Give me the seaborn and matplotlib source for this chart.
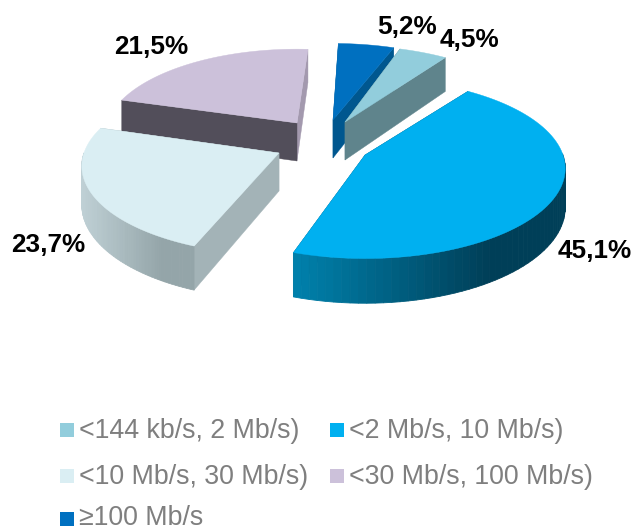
import numpy as np
import seaborn as sns
import matplotlib.pyplot as plt
from matplotlib.patches import Polygon, Rectangle

# Slices, clockwise from the start angle
categories = ['<144 kb/s, 2 Mb/s)', '<2 Mb/s, 10 Mb/s)', '<10 Mb/s, 30 Mb/s)',
              '<30 Mb/s, 100 Mb/s)', '≥100 Mb/s']
shares = [4.5, 45.1, 23.7, 21.5, 5.2]
labels = ['4,5%', '45,1%', '23,7%', '21,5%', '5,2%']
top_colors = ['#92CDDC', '#00B0F0', '#DAEEF3', '#CCC1DA', '#0070C0']
wall_left = ['#5F848C', '#0080AB', '#BFD0D5', '#A399AE', '#00578F']
wall_right = ['#5F848C', '#003F58', '#94A5A9', '#A399AE', '#00578F']
cut_start = ['#5F848C', '#00506E', '#A3B3B7', '#A399AE', '#00578F']
cut_end = ['#5F848C', '#00506E', '#A3B3B7', '#524E5A', '#00578F']
label_pos = [(469, 40), (595, 251), (48, 245), (151, 47), (407, 27)]

START_ANGLE = 71.5
A, B = 198, 88
DEPTH = 38
PERSP = 0.15
# apex of each pulled-out slice, plus small turn/reach fixes for the view distortion
apex = [(345, 122), (365, 155), (279, 153), (297, 123), (333, 120)]
turn = [0, -1, -5, -4, -2]
reach = [1.0, 1.0, 0.985, 0.96, 1.0]
DRAW_ORDER = [4, 0, 3, 2, 1]

sns.set_theme(style='white')
plt.rcParams['font.family'] = ['Liberation Sans', 'DejaVu Sans']


def project(center, X, Y, down=0.0):
    w = 1 + PERSP * Y
    return center[0] + A * X / w, center[1] - B * Y / w + down * DEPTH / w


def draw_slice(ax, center, start, end, size, top, left, right, c_start, c_end):
    th = np.radians(np.linspace(start, end, 80))
    X = size * np.cos(th)
    Y = size * np.sin(th)

    # radial cut faces
    for xe, ye, cut in [(X[0], Y[0], c_start), (X[-1], Y[-1], c_end)]:
        face = [project(center, 0, 0), project(center, xe, ye),
                project(center, xe, ye, 1), project(center, 0, 0, 1)]
        ax.add_patch(Polygon(face, closed=True, fc=cut, ec=cut, lw=0.3))

    # outer wall, shaded along x
    ramp = sns.blend_palette([left, right], 100)
    sx_all = project(center, X, Y)[0]
    front = np.where(np.sin(th) < 0.02)[0]
    if len(front) > 1:
        lo, hi = sx_all[front].min(), sx_all[front].max()
        for i, j in zip(front[:-1], front[1:]):
            if j != i + 1:
                continue
            quad = [project(center, X[i], Y[i]), project(center, X[j], Y[j]),
                    project(center, X[j], Y[j], 1), project(center, X[i], Y[i], 1)]
            frac = min((sx_all[i] - lo) / max(hi - lo, 1) / 0.7, 1)
            c = ramp[int(frac * 99)]
            ax.add_patch(Polygon(quad, closed=True, fc=c, ec=c, lw=0.6))

    # top face
    pts = [project(center, 0, 0)] + [project(center, x, y) for x, y in zip(X, Y)]
    ax.add_patch(Polygon(pts, closed=True, fc=top, ec=top, lw=0.3))


fig = plt.figure(figsize=(6.34, 5.30), dpi=100)
ax = fig.add_axes([0, 0, 1, 1])
ax.set_xlim(0, 634)
ax.set_ylim(530, 0)
ax.axis('off')

cum = np.cumsum([0] + shares)
scale = 360 / cum[-1]
for i in DRAW_ORDER:
    start = START_ANGLE - cum[i + 1] * scale + turn[i]
    end = START_ANGLE - cum[i] * scale + turn[i]
    draw_slice(ax, apex[i], start, end, reach[i], top_colors[i], wall_left[i], wall_right[i],
               cut_start[i], cut_end[i])

for text, (x, y) in zip(labels, label_pos):
    ax.text(x, y, text, fontsize=18.8, fontweight='bold', color='black', ha='center', va='center')

# legend rows: swatch centre y, text baseline y
legend_pos = [(60, 430, 438), (330, 430, 438), (60, 476, 484), (330, 476, 484), (60, 519, 525)]
for name, color, (x, y, base) in zip(categories, top_colors, legend_pos):
    ax.add_patch(Rectangle((x, y - 7), 14, 14, fc=color, ec='none'))
    ax.text(x + 19, base, name, fontsize=19.3, color='#7F7F7F', ha='left', va='baseline')

fig.savefig('out.png', dpi=100)
